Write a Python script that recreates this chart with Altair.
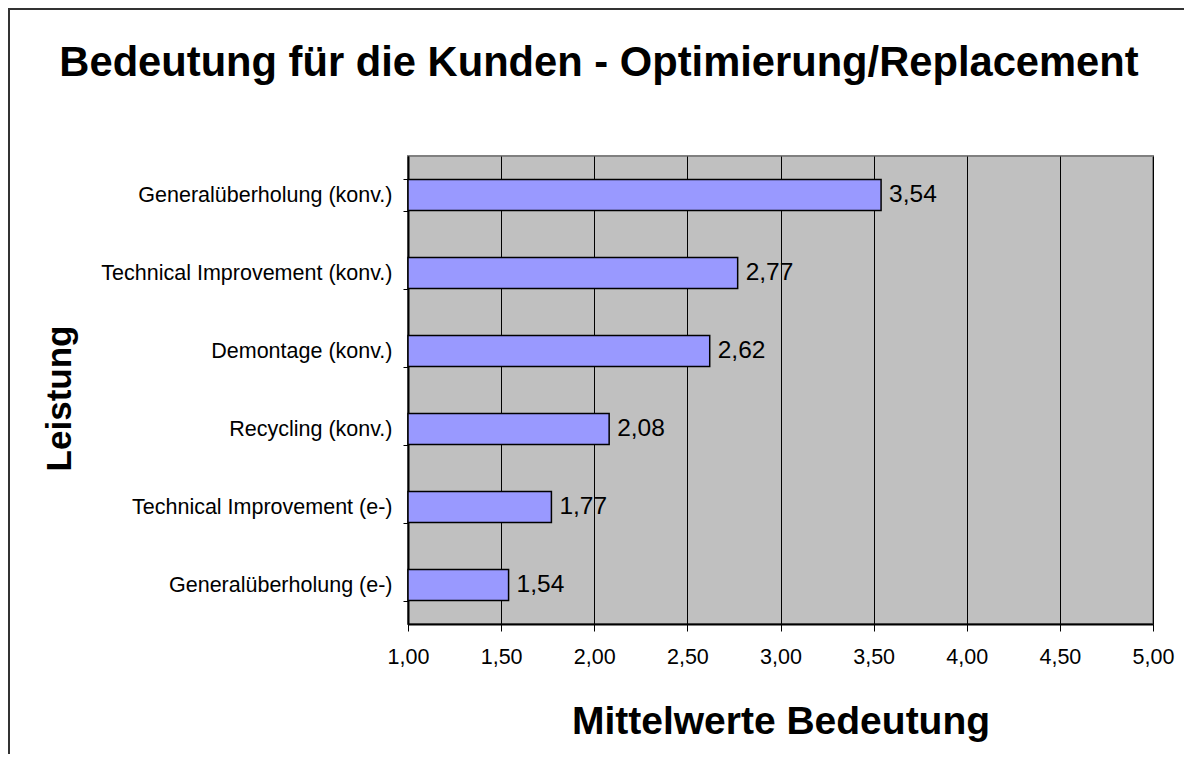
import altair as alt
import pandas as pd

categories = [
    "Generalüberholung (konv.)",
    "Technical Improvement (konv.)",
    "Demontage (konv.)",
    "Recycling (konv.)",
    "Technical Improvement (e-)",
    "Generalüberholung (e-)",
]
values = [3.54, 2.77, 2.62, 2.08, 1.77, 1.54]
x_ticks = [1.0, 1.5, 2.0, 2.5, 3.0, 3.5, 4.0, 4.5, 5.0]

df = pd.DataFrame({"Leistung": categories, "Wert": values})

FONT = "Liberation Sans"
W, H = 745, 468
PAD = {"left": 400, "top": 148, "right": 31, "bottom": 130}

y_enc = alt.Y(
    "Leistung:N",
    sort=categories,
    scale=alt.Scale(paddingInner=0.6, paddingOuter=0.3),
    axis=alt.Axis(
        title="Leistung",
        titleFont=FONT, titleFontSize=35, titleFontWeight="bold", titleColor="black",
        titleAngle=-90, titleAlign="center", titleBaseline="alphabetic",
        titleX=-338, titleY=242,
        labelFont=FONT, labelFontSize=21.5, labelColor="black", labelPadding=11,
        labelLimit=400,
        tickBand="extent", tickSize=5, tickColor="black", tickWidth=1,
        domainColor="black", domainWidth=2, grid=False,
    ),
)

x_enc = alt.X(
    "Wert:Q",
    scale=alt.Scale(domain=[1, 5], zero=False, nice=False),
    axis=alt.Axis(
        title="Mittelwerte Bedeutung",
        titleFont=FONT, titleFontSize=39, titleFontWeight="bold", titleColor="black",
        titleBaseline="alphabetic", titleAlign="center", titleX=W / 2, titleY=109,
        values=x_ticks,
        labelExpr="replace(format(datum.value, '.2f'), '.', ',')",
        labelFont=FONT, labelFontSize=21.5, labelColor="black", labelPadding=15,
        labelFlush=False, labelOverlap=False,
        tickSize=7, tickColor="black", tickWidth=1,
        domainColor="black", domainWidth=2,
        grid=True, gridColor="black", gridOpacity=1, gridWidth=1,
    ),
)

bars = alt.Chart(df).mark_bar(
    color="#9999FF", stroke="black", strokeWidth=1.5
).encode(
    y=y_enc,
    x=x_enc,
    x2=alt.X2(datum=1),
)

labels = alt.Chart(df).transform_calculate(
    lab="replace(format(datum.Wert, '.2f'), '.', ',')"
).mark_text(
    align="left", baseline="middle", dx=8, font=FONT, fontSize=24.5, color="black"
).encode(
    y=alt.Y("Leistung:N", sort=categories),
    x=alt.X("Wert:Q"),
    text="lab:N",
)

frame_df = pd.DataFrame({"k": [0]})
left_border = alt.Chart(frame_df).mark_rule(color="#333333", strokeWidth=2).encode(
    x=alt.value(-PAD["left"] + 1), y=alt.value(-PAD["top"]), y2=alt.value(H + PAD["bottom"])
)
top_border = alt.Chart(frame_df).mark_rule(color="#333333", strokeWidth=2).encode(
    x=alt.value(-PAD["left"]), x2=alt.value(W + PAD["right"]), y=alt.value(-PAD["top"] + 1)
)

chart = alt.layer(bars, labels, left_border, top_border).properties(
    width=W,
    height=H,
    padding=PAD,
    autosize=alt.AutoSizeParams(type="none"),
    background="white",
    title=alt.TitleParams(
        text="Bedeutung für die Kunden - Optimierung/Replacement",
        font=FONT, fontSize=41.7, fontWeight="bold", color="black",
        anchor="middle", frame="group", baseline="alphabetic",
        offset=0, dx=-181.5, dy=110.5,
    ),
).configure_view(
    fill="#C0C0C0", stroke="#808080", strokeWidth=2
)

chart.save("out.html", embed_options={"renderer": "svg", "actions": False})
